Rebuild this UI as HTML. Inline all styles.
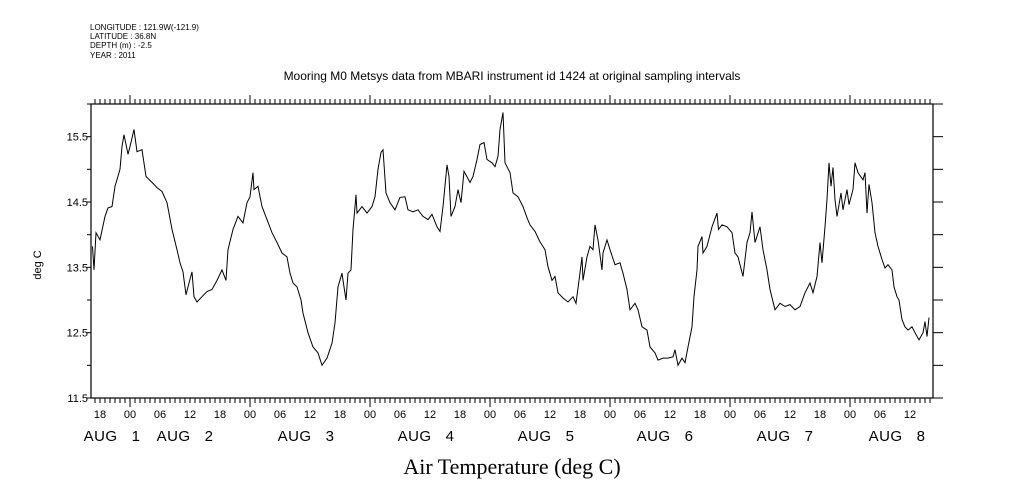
<!DOCTYPE html>
<html><head><meta charset="utf-8">
<style>
html,body{margin:0;padding:0;background:#fff;}
svg{display:block;font-family:"Liberation Sans",sans-serif;}
</style></head>
<body>
<svg id="chart" width="1009" height="504" viewBox="0 0 1009 504" xmlns="http://www.w3.org/2000/svg">
<g font-size="8" fill="#000">
<text x="90" y="30">LONGITUDE : 121.9W(-121.9)</text>
<text x="90" y="39">LATITUDE : 36.8N</text>
<text x="90" y="48">DEPTH (m) : -2.5</text>
<text x="90" y="58">YEAR : 2011</text>
</g>
<text x="512" y="80" font-size="12" text-anchor="middle">Mooring M0 Metsys data from MBARI instrument id 1424 at original sampling intervals</text>
<text x="0" y="0" font-size="11" text-anchor="middle" transform="translate(41,265) rotate(-90)">deg C</text>
<text x="512" y="474" font-size="22" text-anchor="middle" font-family="'Liberation Serif',serif">Air Temperature (deg C)</text>
<g id="axes"></g>
<g id="series"></g>
</svg>
<script>
// data: hours since first midnight mark, temperature (deg C)
const hours = [-7.5,-7.2,-6.8,-6,-5,-4.4,-3.6,-3,-2,-1.6,-1.2,-0.4,0.1,0.8,1.4,2.4,3.2,4.4,5.4,6.4,7.4,8.4,9.4,10,10.6,11.2,11.8,12.4,12.8,13.4,14.4,15.4,16.4,17.4,18.4,19.2,19.6,20.6,21.6,22.6,23.4,24,24.6,24.8,25.6,26.4,27.4,28.4,29.4,30.4,31.4,32,32.6,33.4,34.2,34.6,35.6,36.6,37.6,38.4,39.4,40.4,41,41.6,42.4,42.8,43.2,43.6,44.2,44.6,45.2,45.4,46.4,47.4,48.4,49,49.6,50.2,50.6,51.2,52,53,54,55,55.6,56.6,57.6,58.6,59.6,60.4,61.4,62,62.6,63.4,63.8,64.2,65,65.6,66.2,66.8,68,68.6,69.4,70,70.8,71.4,72.4,73,73.6,74,74.6,75,76,76.6,77.6,78.6,79.4,80,81,82,83,83.6,84.4,85,85.6,86.6,87.6,88.6,89.2,89.8,90.4,90.6,91.4,92,92.6,93,93.6,94.4,94.6,95.4,96,97,98,98.6,99.4,100,101,101.6,102.4,103.4,104,105,105.6,106.6,107.6,108.6,109,109.6,110.4,111,111.6,112.4,112.8,113.4,113.6,114.4,114.6,115.4,116.4,117.4,117.7,118.4,119.4,120.4,121,121.6,122.6,123.4,124,124.4,125,126,126.6,127.4,128,129,130,131,132,133,134,135,136,136.6,137.4,138,138.4,139,139.4,139.8,140.2,140.6,141,141.4,142.2,142.6,143.4,143.8,144.6,145,145.6,146.6,147,147.4,147.8,148.4,149,149.6,150.4,151,151.6,152.4,152.8,153.4,153.8,154.4,155,155.6,156.4,157,157.8,158.6,159,159.4,159.8];
const temps = [13.82,13.46,14.03,13.92,14.28,14.41,14.43,14.74,15.0,15.35,15.53,15.23,15.38,15.61,15.27,15.3,14.89,14.8,14.72,14.66,14.49,14.08,13.77,13.57,13.43,13.08,13.26,13.43,13.05,12.97,13.05,13.13,13.16,13.3,13.46,13.3,13.77,14.08,14.28,14.18,14.49,14.58,14.95,14.69,14.74,14.43,14.23,14.03,13.88,13.72,13.66,13.41,13.26,13.2,13.0,12.8,12.5,12.28,12.19,12.0,12.11,12.34,12.65,13.2,13.41,13.2,13.0,13.41,13.46,14.08,14.61,14.33,14.43,14.33,14.43,14.58,15.0,15.26,15.3,14.64,14.49,14.38,14.57,14.58,14.38,14.35,14.38,14.28,14.23,14.31,14.12,14.05,14.43,15.07,14.89,14.28,14.43,14.69,14.49,14.97,14.8,14.89,15.15,15.38,15.41,15.15,15.1,15.04,15.2,15.61,15.87,15.1,14.95,14.64,14.58,14.43,14.26,14.15,14.05,13.89,13.77,13.51,13.3,13.36,13.11,13.03,12.97,13.05,12.95,13.3,13.66,13.3,13.66,13.82,13.77,14.15,13.92,13.46,13.72,13.92,13.77,13.54,13.57,13.41,13.16,12.85,12.95,12.85,12.59,12.54,12.28,12.19,12.08,12.11,12.11,12.13,12.24,12.0,12.11,12.04,12.28,12.59,13.05,13.46,13.82,13.97,13.72,13.82,14.12,14.33,14.08,14.15,14.12,14.03,13.72,13.66,13.36,13.88,14.03,14.35,13.88,14.12,13.77,13.46,13.16,12.85,12.95,12.9,12.93,12.85,12.9,13.11,13.26,13.11,13.36,13.88,13.57,14.12,14.54,15.1,14.74,15.03,14.54,14.28,14.64,14.38,14.69,14.46,14.69,15.1,14.95,14.84,14.95,14.33,14.77,14.49,14.03,13.82,13.62,13.49,13.54,13.46,13.2,13.05,13.0,12.7,12.59,12.54,12.59,12.5,12.39,12.5,12.67,12.44,12.73];
const yTickValues = [11.5,12,12.5,13,13.5,14,14.5,15,15.5,16];
const yTickLabels = ["11.5","","12.5","","13.5","","14.5","","15.5",""];
const hourLabels = ["00","06","12","18"];
const dateLabels = ["AUG   1","AUG   2","AUG   3","AUG   4","AUG   5","AUG   6","AUG   7","AUG   8"];
const dateLabelX = [112,185,306,426,546,665,785,897];

const L=91,R=933,T=104,B=398;
const tMin=-7.8, tMax=160.6, vMin=11.5, vMax=16;
function xScale(t){return L+(t-tMin)/(tMax-tMin)*(R-L);}
function yScale(v){return B-(v-vMin)/(vMax-vMin)*(B-T);}
const NS="http://www.w3.org/2000/svg";
function mk(tag,attrs,parent){const e=document.createElementNS(NS,tag);for(const k in attrs)e.setAttribute(k,attrs[k]);parent.appendChild(e);return e;}
const axes=document.getElementById('axes');
const frame=mk('rect',{x:L,y:T,width:R-L,height:B-T,fill:'none',stroke:'#000','stroke-width':1.2},axes);


for(let h=Math.ceil(tMin);h<=tMax;h++){
  const x=xScale(h);
  const major=((h%24)+24)%24===0;
  const len=major?9:5;
  const tb=mk('line',{x1:x,x2:x,y1:B,y2:B+len,stroke:'#000','stroke-width':1},axes);
  
  
  const tt=mk('line',{x1:x,x2:x,y1:T,y2:T-len,stroke:'#000','stroke-width':1},axes);
  
  
  if(((h%6)+6)%6===0){
    const idx=(((h%24)+24)%24)/6;
    const tx=mk('text',{x:x,y:418,'font-size':11,'text-anchor':'middle'},axes);
    tx.textContent=hourLabels[idx];
    
    
  }
}
dateLabels.forEach((d,i)=>{
  const tx=mk('text',{x:dateLabelX[i],y:441,'font-size':15,'text-anchor':'middle','letter-spacing':'0.5'},axes);
  tx.setAttributeNS('http://www.w3.org/XML/1998/namespace','xml:space','preserve');
  tx.textContent=d;
  
  
});
yTickValues.forEach((v,i)=>{
  const y=yScale(v);
  const tl=mk('line',{x1:L-4,x2:L,y1:y,y2:y,stroke:'#000'},axes);
  
  
  const tr=mk('line',{x1:R,x2:R+10,y1:y,y2:y,stroke:'#000'},axes);
  
  
  if(yTickLabels[i]){
    const tx=mk('text',{x:L-3,y:y+4,'font-size':11,'text-anchor':'end'},axes);
    tx.textContent=yTickLabels[i];
    
    
  }
});
const pts=hours.map((h,i)=>xScale(h).toFixed(1)+','+yScale(temps[i]).toFixed(1)).join(' ');
const line=mk('polyline',{points:pts,fill:'none',stroke:'#000','stroke-width':1},document.getElementById('series'));


</script>
</body></html>
